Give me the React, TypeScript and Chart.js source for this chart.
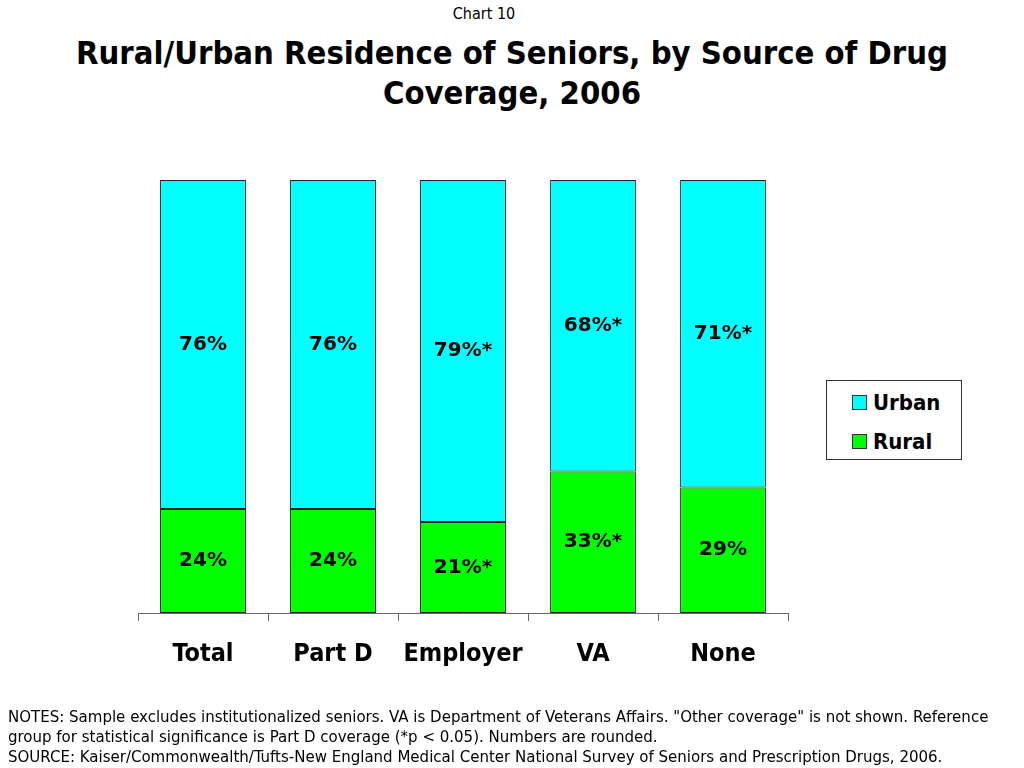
import React, { useEffect, useRef } from "react";
import { Chart, registerables } from "chart.js";

Chart.register(...registerables);

const categories = ["Total", "Part D", "Employer", "VA", "None"];
const ruralValues = [24, 24, 21, 33, 29];
const urbanValues = [76, 76, 79, 68, 71];
const ruralLabels = ["24%", "24%", "21%*", "33%*", "29%"];
const urbanLabels = ["76%", "76%", "79%*", "68%*", "71%*"];

const RURAL_COLOR = "#00FF00";
const URBAN_COLOR = "#00FFFF";
const CONDENSED = "'DejaVu Sans Condensed', 'DejaVu Sans', sans-serif";

// Bars are drawn as shares of each bar's total (the published numbers are rounded)
const totals = categories.map((_, i) => ruralValues[i] + urbanValues[i]);
const ruralShare = ruralValues.map((v, i) => (v / totals[i]) * 100);
const urbanShare = urbanValues.map((v, i) => (v / totals[i]) * 100);

const labelPlugin = {
  id: "barLabels",
  afterDatasetsDraw(chart: any) {
    const ctx = chart.ctx;
    ctx.save();
    ctx.font = "bold 20px 'DejaVu Sans', sans-serif";
    ctx.fillStyle = "#000";
    ctx.textAlign = "center";
    ctx.textBaseline = "middle";
    chart.data.datasets.forEach((ds: any, di: number) => {
      const meta = chart.getDatasetMeta(di);
      meta.data.forEach((bar: any, i: number) => {
        const y = (bar.y + bar.base) / 2;
        ctx.fillText(ds.labelTexts[i], bar.x, y);
      });
    });
    ctx.restore();
  },
};

export default function App() {
  const ref = useRef<HTMLCanvasElement>(null);

  useEffect(() => {
    if (!ref.current) return;
    const chart = new Chart(ref.current, {
      type: "bar",
      data: {
        labels: categories,
        datasets: [
          {
            label: "Rural",
            data: ruralShare,
            backgroundColor: RURAL_COLOR,
            borderColor: "#222",
            borderWidth: 1,
            borderSkipped: false,
            barPercentage: 0.66,
            categoryPercentage: 1,
            labelTexts: ruralLabels,
          } as any,
          {
            label: "Urban",
            data: urbanShare,
            backgroundColor: URBAN_COLOR,
            borderColor: "#222",
            borderWidth: 1,
            borderSkipped: false,
            barPercentage: 0.66,
            categoryPercentage: 1,
            labelTexts: urbanLabels,
          } as any,
        ],
      },
      options: {
        animation: false,
        responsive: false,
        maintainAspectRatio: false,
        layout: { padding: { left: 138, right: 236, top: 180, bottom: 95 } },
        plugins: {
          legend: { display: false },
          tooltip: { enabled: false },
          title: { display: false },
        },
        scales: {
          x: {
            stacked: true,
            grid: {
              display: true,
              drawOnChartArea: false,
              drawTicks: true,
              tickLength: 8,
              color: "#666",
              offset: true,
            },
            border: { display: true, color: "#666", width: 1 },
            ticks: {
              color: "#000",
              padding: 18,
              font: { family: CONDENSED, size: 25, weight: "bold" },
            },
            afterFit: (scale: any) => {
              scale.height = 60;
            },
          },
          y: {
            stacked: true,
            display: false,
            min: 0,
            max: 100,
          },
        },
      },
      plugins: [labelPlugin],
    });
    return () => chart.destroy();
  }, []);

  return (
    <div
      style={{
        position: "absolute",
        left: 0,
        top: 0,
        width: 1024,
        height: 768,
        background: "#fff",
        overflow: "hidden",
        fontFamily: CONDENSED,
        color: "#000",
      }}
    >
      <div
        style={{
          position: "absolute",
          top: 4,
          left: 384,
          width: 200,
          textAlign: "center",
          fontSize: 16,
          fontFamily: CONDENSED,
        }}
      >
        Chart 10
      </div>
      <div
        style={{
          position: "absolute",
          top: 33,
          left: 0,
          width: 1024,
          textAlign: "center",
          fontSize: 32.5,
          fontWeight: "bold",
          lineHeight: "40px",
          whiteSpace: "nowrap",
        }}
      >
        Rural/Urban Residence of Seniors, by Source of Drug
        <br />
        Coverage, 2006
      </div>
      <canvas
        ref={ref}
        width={1024}
        height={768}
        style={{ position: "absolute", left: 0, top: 0, width: 1024, height: 768 }}
      />
      <div
        style={{
          position: "absolute",
          left: 826,
          top: 380,
          width: 134,
          height: 78,
          border: "1px solid #333",
          background: "#fff",
          fontSize: 22,
          fontWeight: "bold",
        }}
      >
        {[
          { name: "Urban", color: URBAN_COLOR, top: 8 },
          { name: "Rural", color: RURAL_COLOR, top: 47 },
        ].map((it) => (
          <div
            key={it.name}
            style={{ position: "absolute", left: 25, top: it.top, height: 26, display: "flex", alignItems: "center" }}
          >
            <span
              style={{
                display: "inline-block",
                width: 13,
                height: 13,
                background: it.color,
                border: "1px solid #333",
                marginRight: 6,
              }}
            />
            <span>{it.name}</span>
          </div>
        ))}
      </div>
      <div
        style={{
          position: "absolute",
          left: 8,
          top: 706,
          fontSize: 16.7,
          lineHeight: "20px",
          whiteSpace: "nowrap",
        }}
      >
        NOTES: Sample excludes institutionalized seniors. VA is Department of Veterans Affairs. "Other coverage" is not shown. Reference
        <br />
        group for statistical significance is Part D coverage (*p &lt; 0.05). Numbers are rounded.
        <br />
        SOURCE: Kaiser/Commonwealth/Tufts-New England Medical Center National Survey of Seniors and Prescription Drugs, 2006.
      </div>
    </div>
  );
}
